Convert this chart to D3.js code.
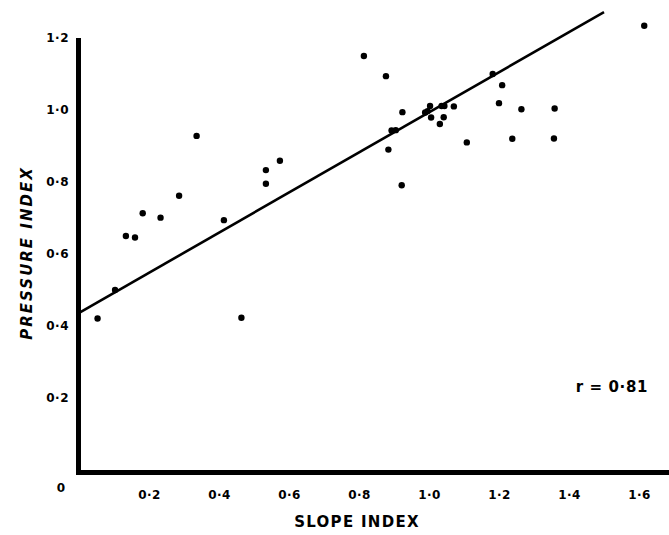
<!DOCTYPE html>
<html>
<head>
<meta charset="utf-8">
<script src="https://cdn.jsdelivr.net/npm/d3@7"></script>
<style>
  body { margin: 0; background: #fff; }
  text { font-family: "DejaVu Sans", sans-serif; fill: #000; }
</style>
</head>
<body>
<svg id="chart" width="669" height="535"></svg>
<script>
const slopeIndex = [0.053, 0.103, 0.134, 0.160, 0.182, 0.233, 0.286, 0.336, 0.414, 0.464,
  0.534, 0.534, 0.574, 0.814, 0.877, 0.884, 0.893, 0.905, 0.922, 0.924,
  0.989, 0.996, 1.003, 1.006, 1.031, 1.036, 1.042, 1.044, 1.071, 1.108,
  1.182, 1.200, 1.209, 1.238, 1.264, 1.357, 1.359, 1.615];
const pressureIndex = [0.421, 0.500, 0.650, 0.646, 0.713, 0.701, 0.762, 0.928, 0.694, 0.423,
  0.833, 0.795, 0.859, 1.150, 1.094, 0.890, 0.943, 0.944, 0.791, 0.994,
  0.993, 0.997, 1.011, 0.979, 0.961, 1.011, 0.980, 1.011, 1.010, 0.910,
  1.100, 1.019, 1.069, 0.920, 1.002, 0.921, 1.004, 1.234];
const xTicks = [0.2, 0.4, 0.6, 0.8, 1.0, 1.2, 1.4, 1.6];
const yTicks = [0.2, 0.4, 0.6, 0.8, 1.0, 1.2];
const fitLine = [[0, 0.438], [1.5, 1.272]];
const rLabel = "r = 0·81";

const svg = d3.select("#chart");
const x = d3.scaleLinear().domain([0, 1.6]).range([79, 639]);
const y = d3.scaleLinear().domain([0, 1.2]).range([470, 38]);
const fmt = v => d3.format(".1f")(v).replace(".", "·");

// axis lines (thick, like the print)
svg.append("line")
  .attr("x1", 78.5).attr("x2", 78.5)
  .attr("y1", y(1.2)).attr("y2", 475)
  .attr("stroke", "#000").attr("stroke-width", 5);
svg.append("line")
  .attr("x1", 76).attr("x2", 669)
  .attr("y1", 472.5).attr("y2", 472.5)
  .attr("stroke", "#000").attr("stroke-width", 5);

// x tick labels
const xAxis = svg.append("g")
  .attr("transform", "translate(0,487)")
  .call(d3.axisBottom(x).tickValues(xTicks).tickSize(0).tickFormat(fmt));
xAxis.select(".domain").remove();
xAxis.selectAll("text")
  .attr("dy", "0.71em")
  .style("font-size", "12px").style("font-weight", "bold")
  .style("letter-spacing", "0.5px");

// y tick labels
const yAxis = svg.append("g")
  .attr("transform", "translate(69,0)")
  .call(d3.axisLeft(y).tickValues(yTicks).tickSize(0).tickPadding(0).tickFormat(fmt));
yAxis.select(".domain").remove();
yAxis.selectAll("text")
  .style("font-size", "12px").style("font-weight", "bold")
  .style("letter-spacing", "0.5px");

svg.append("text")
  .attr("x", 61).attr("y", 492)
  .attr("text-anchor", "middle")
  .style("font-size", "12px").style("font-weight", "bold")
  .text("0");

// regression line
svg.append("line")
  .attr("x1", x(fitLine[0][0]) + 1).attr("y1", y(fitLine[0][1]))
  .attr("x2", x(fitLine[1][0])).attr("y2", y(fitLine[1][1]))
  .attr("stroke", "#000").attr("stroke-width", 2.6);

// points
svg.append("g").selectAll("circle")
  .data(d3.zip(slopeIndex, pressureIndex))
  .join("circle")
  .attr("cx", d => x(d[0]))
  .attr("cy", d => y(d[1]))
  .attr("r", 3.2)
  .attr("fill", "#000");

// axis titles
svg.append("text")
  .attr("x", 357).attr("y", 527)
  .attr("text-anchor", "middle")
  .style("font-size", "15px").style("font-weight", "bold")
  .style("letter-spacing", "1.3px")
  .text("SLOPE INDEX");

svg.append("text")
  .attr("transform", "translate(32,253) rotate(-90)")
  .attr("text-anchor", "middle")
  .style("font-size", "15px").style("font-weight", "bold").style("font-style", "italic")
  .style("letter-spacing", "2px")
  .text("PRESSURE INDEX");

svg.append("text")
  .attr("x", 648).attr("y", 392)
  .attr("text-anchor", "end")
  .style("font-size", "15px").style("font-weight", "bold")
  .style("letter-spacing", "0.6px")
  .text(rLabel);
</script>
</body>
</html>
